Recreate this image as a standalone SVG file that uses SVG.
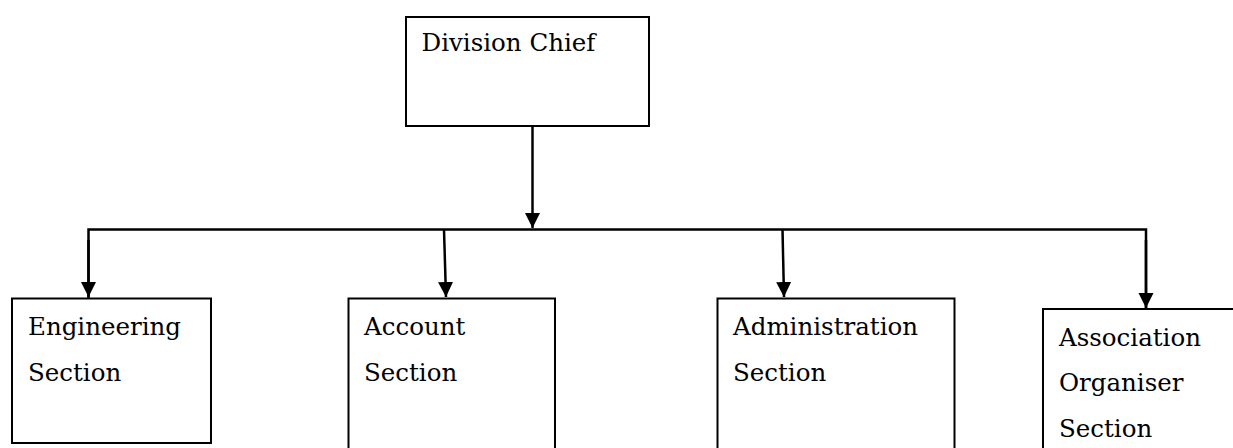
<svg xmlns="http://www.w3.org/2000/svg" width="1233" height="448" viewBox="0 0 1233 448">
  <style>
    .box { fill: #ffffff; stroke: #000000; stroke-width: 2; }
    .label { font-family: "DejaVu Serif", "Liberation Serif", serif; font-size: 24.5px; fill: #000000; }
    .wire { fill: none; stroke: #000000; stroke-width: 2.5; }
  </style>
  <defs>
    <marker id="arrow" markerUnits="userSpaceOnUse" markerWidth="16" markerHeight="16" viewBox="0 0 16 16" refX="15" refY="8" orient="auto">
      <path d="M0,0.5 L15,8 L0,15.5 Z" fill="#000000"/>
    </marker>
  </defs>

  <rect width="1233" height="448" fill="#ffffff"/>

  <!-- connectors -->
  <g id="connectors">
    <line class="wire" x1="532.5" y1="126" x2="532.5" y2="228" marker-end="url(#arrow)"/>
    <polyline class="wire" points="88.5,298 88.5,229.5 1146,229.5 1146,309" />
    <line class="wire" x1="88.5" y1="240" x2="88.5" y2="297" marker-end="url(#arrow)"/>
    <line class="wire" x1="1146" y1="240" x2="1146" y2="308" marker-end="url(#arrow)"/>
    <line class="wire" x1="444" y1="229.5" x2="446" y2="297" marker-end="url(#arrow)"/>
    <line class="wire" x1="782.5" y1="229.5" x2="784" y2="297" marker-end="url(#arrow)"/>
  </g>

  <!-- Division Chief -->
  <g id="division-chief">
    <rect class="box" x="406" y="17" width="243" height="109"/>
    <text class="label" x="421.5" y="51">Division Chief</text>
  </g>

  <!-- Engineering Section -->
  <g id="engineering-section">
    <rect class="box" x="12" y="298.5" width="199" height="144.5"/>
    <text class="label" x="28" y="335">Engineering</text>
    <text class="label" x="28" y="380.5">Section</text>
  </g>

  <!-- Account Section -->
  <g id="account-section">
    <rect class="box" x="348.5" y="298.5" width="206.5" height="160"/>
    <text class="label" x="364" y="335">Account</text>
    <text class="label" x="364" y="380.5">Section</text>
  </g>

  <!-- Administration Section -->
  <g id="administration-section">
    <rect class="box" x="717.5" y="298.5" width="237" height="160"/>
    <text class="label" x="733" y="335">Administration</text>
    <text class="label" x="733" y="380.5">Section</text>
  </g>

  <!-- Association Organiser Section -->
  <g id="association-organiser-section">
    <rect class="box" x="1043" y="309" width="200" height="150"/>
    <text class="label" x="1059" y="345.5">Association</text>
    <text class="label" x="1059" y="391">Organiser</text>
    <text class="label" x="1059" y="436.5">Section</text>
  </g>
</svg>
